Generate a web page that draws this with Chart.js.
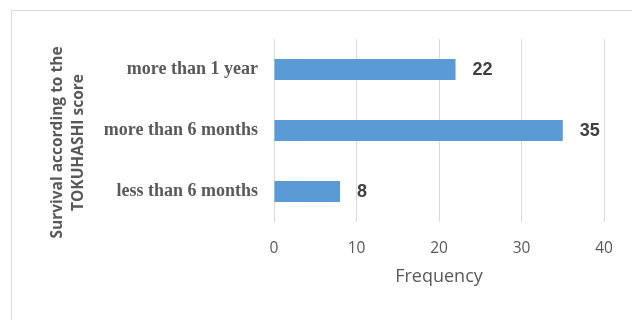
<!DOCTYPE html>
<html><head><meta charset="utf-8">
<script src="https://cdn.jsdelivr.net/npm/chart.js@4"></script>
<style>
html,body{margin:0;padding:0;background:#fff;}
#wrap{position:relative;width:632px;height:320px;}
#frame{position:absolute;left:11px;top:10px;right:0;bottom:0;border-left:1px solid #d9d9d9;border-top:1px solid #d9d9d9;}
canvas{position:absolute;left:0;top:0;}
</style></head>
<body>
<div id="wrap"><div id="frame"></div><canvas id="c" width="632" height="320"></canvas></div>
<script>
const categories = ['more than 1 year', 'more than 6 months', 'less than 6 months'];
const frequency = [22, 35, 8];
const xTicks = [0, 10, 20, 30, 40];
const yTitleLines = ['Survival according to the', 'TOKUHASHI score'];
const xTitle = 'Frequency';

const labelPlugin = {
  id: 'extras',
  afterDatasetsDraw(chart) {
    const ctx = chart.ctx;
    const meta = chart.getDatasetMeta(0);
    ctx.save();
    ctx.font = 'bold 18px "Liberation Sans", Arial, sans-serif';
    ctx.fillStyle = '#404040';
    ctx.textAlign = 'left';
    ctx.textBaseline = 'middle';
    meta.data.forEach((bar, i) => {
      ctx.fillText(String(frequency[i]), bar.x + 17, bar.y + 1);
    });
    ctx.restore();
    // y-axis title
    const ca = chart.chartArea;
    ctx.save();
    ctx.font = 'bold 15.5px "Open Sans", sans-serif';
    ctx.fillStyle = '#595959';
    ctx.textAlign = 'center';
    ctx.textBaseline = 'middle';
    const cy = (ca.top + ca.bottom) / 2 + 12;
    const xs = [58, 79];
    yTitleLines.forEach((t, i) => {
      ctx.save();
      ctx.translate(xs[i], cy);
      ctx.rotate(-Math.PI / 2);
      ctx.fillText(t, 0, 0);
      ctx.restore();
    });
    ctx.restore();
  }
};

new Chart(document.getElementById('c'), {
  type: 'bar',
  data: {
    labels: categories,
    datasets: [{
      data: frequency,
      backgroundColor: '#5b9bd5',
      borderWidth: 0,
      barPercentage: 0.345,
      categoryPercentage: 1
    }]
  },
  options: {
    indexAxis: 'y',
    responsive: false,
    animation: false,
    devicePixelRatio: 1,
    layout: { padding: { top: 39, right: 28, bottom: 32, left: 0 } },
    plugins: { legend: { display: false }, tooltip: { enabled: false } },
    scales: {
      x: {
        min: 0, max: 40,
        afterBuildTicks(s) { s.ticks = xTicks.map(v => ({ value: v })); },
        afterFit(s) { s.height = 66; },
        grid: { color: '#d9d9d9', lineWidth: 1, drawTicks: false },
        border: { display: false },
        ticks: { color: '#595959', font: { family: '"Open Sans", sans-serif', size: 15.5 }, padding: 17 },
        title: { display: true, text: xTitle, color: '#595959', font: { family: '"Open Sans", sans-serif', size: 18 }, padding: { top: 10, bottom: 0 } }
      },
      y: {
        afterFit(s) { s.width = 274; },
        grid: { display: false, drawTicks: false },
        border: { display: false },
        ticks: { color: '#595959', font: { family: '"Liberation Serif", "Times New Roman", serif', size: 18, weight: 'bold' }, padding: 16 }
      }
    }
  },
  plugins: [labelPlugin]
});
</script>
</body></html>
